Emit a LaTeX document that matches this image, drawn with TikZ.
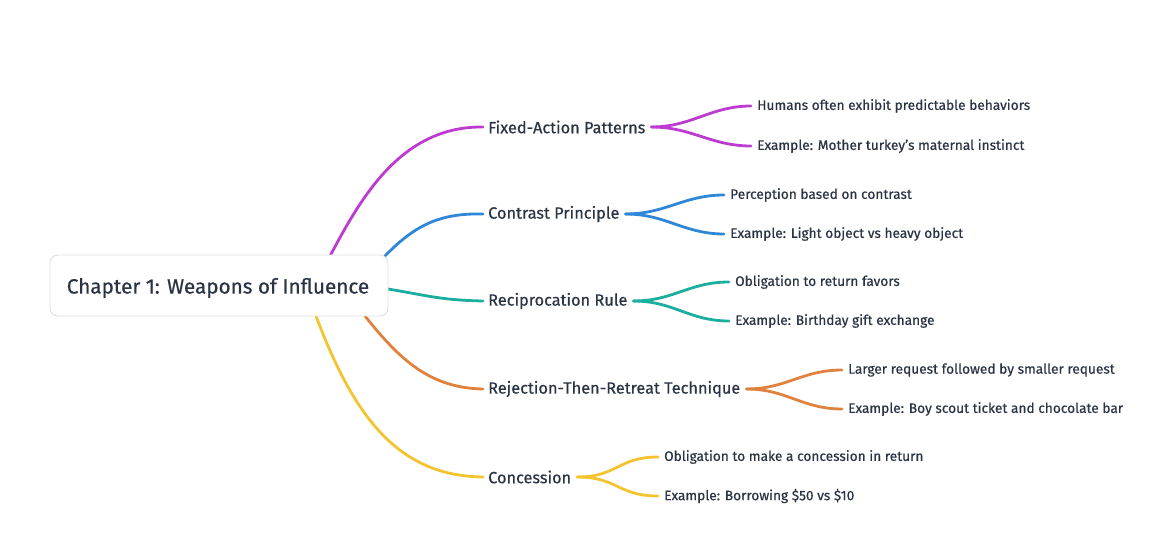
\documentclass[tikz,border=0pt]{standalone}
\usepackage{fontspec}
\setmainfont{Fira Sans}[FakeBold=0.5]
\definecolor{txt}{HTML}{2B3444}
\definecolor{cpurple}{HTML}{BD3BD1}
\definecolor{cblue}{HTML}{2F87D8}
\definecolor{cteal}{HTML}{1BAE9E}
\definecolor{corange}{HTML}{E0823D}
\definecolor{cyellow}{HTML}{F4C430}
\definecolor{boxborder}{HTML}{DADDE2}
\begin{document}
\begin{tikzpicture}[x=1pt,y=-1pt,
  conn/.style={line width=2.8pt,line cap=round},
  branchtxt/.style={anchor=west,inner sep=0pt,text=txt,font=\fontsize{16.3}{18}\selectfont},
  leaftxt/.style={anchor=west,inner sep=0pt,text=txt,font=\fontsize{13.7}{16}\selectfont},
  roottxt/.style={inner sep=0pt,text=txt,font=\fontsize{20.7}{24}\selectfont}]
\useasboundingbox (0,0) rectangle (1154,534);
% coordinates
\coordinate (r1) at (330,256);
\coordinate (r2) at (385,256);
\coordinate (r3) at (388,289);
\coordinate (r4) at (365,316);
\coordinate (r5) at (316,316);
% branch nodes
\node[branchtxt] (b1) at (488,127) {Fixed-Action Patterns};
\node[branchtxt] (b2) at (488,214) {Contrast Principle};
\node[branchtxt] (b3) at (488,301) {Reciprocation Rule};
\node[branchtxt] (b4) at (488,389) {Rejection-Then-Retreat Technique};
\node[branchtxt] (b5) at (488,477) {Concession};
% leaves
\node[leaftxt] (l1a) at (757,106) {Humans often exhibit predictable behaviors};
\node[leaftxt] (l1b) at (757,146) {Example: Mother turkey's maternal instinct};
\node[leaftxt] (l2a) at (730,195) {Perception based on contrast};
\node[leaftxt] (l2b) at (730,234) {Example: Light object vs heavy object};
\node[leaftxt] (l3a) at (735,282) {Obligation to return favors};
\node[leaftxt] (l3b) at (735,321) {Example: Birthday gift exchange};
\node[leaftxt] (l4a) at (848,370) {Larger request followed by smaller request};
\node[leaftxt] (l4b) at (848,409) {Example: Boy scout ticket and chocolate bar};
\node[leaftxt] (l5a) at (664,457) {Obligation to make a concession in return};
\node[leaftxt] (l5b) at (664,496) {Example: Borrowing \$50 vs \$10};
% root to branches
\draw[conn,cpurple] (r1) .. controls (360,200) and (400,126) .. ([xshift=-5pt]b1.west);
\draw[conn,cblue] (r2) .. controls (415,225) and (440,213) .. ([xshift=-5pt]b2.west);
\draw[conn,cteal] (r3) .. controls (430,296) and (440,300) .. ([xshift=-5pt]b3.west);
\draw[conn,corange] (r4) .. controls (400,360) and (430,388) .. ([xshift=-5pt]b4.west);
\draw[conn,cyellow] (r5) .. controls (355,420) and (400,476) .. ([xshift=-5pt]b5.west);
% branches to leaves
\foreach \b/\la/\lb/\c in {b1/l1a/l1b/cpurple,b2/l2a/l2b/cblue,b3/l3a/l3b/cteal,b4/l4a/l4b/corange,b5/l5a/l5b/cyellow}{
  \coordinate (s) at ([xshift=6pt]\b.east);
  \coordinate (ea) at ([xshift=-6pt]\la.west);
  \coordinate (eb) at ([xshift=-6pt]\lb.west);
  \draw[conn,\c] (s) .. controls ([xshift=40pt]s) and ([xshift=-40pt]ea) .. (ea);
  \draw[conn,\c] (s) .. controls ([xshift=40pt]s) and ([xshift=-40pt]eb) .. (eb);
}
% root box
\draw[boxborder,fill=white,rounded corners=8pt,line width=0.8pt] (50,255) rectangle (388,316);
\node[roottxt] (root) at (218,288) {Chapter 1: Weapons of Influence};
\end{tikzpicture}
\end{document}
